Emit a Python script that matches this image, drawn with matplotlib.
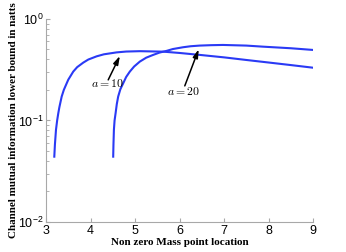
import matplotlib
matplotlib.use('Agg')
import matplotlib.pyplot as plt

# ---------------------- data ----------------------
x_a10 = [3.186, 3.2, 3.224, 3.25, 3.276, 3.3, 3.352, 3.4, 3.464, 3.5, 3.612,
         3.7, 3.836, 3.95, 4.137, 4.3, 4.585, 4.8, 5.108, 5.63, 6.0, 6.5,
         7.0, 7.5, 8.0, 8.5, 8.99]
y_a10 = [0.044, 0.058, 0.081, 0.100, 0.118, 0.135, 0.172, 0.200, 0.232, 0.252,
         0.303, 0.335, 0.371, 0.398, 0.428, 0.448, 0.468, 0.477, 0.481, 0.476,
         0.462, 0.440, 0.418, 0.394, 0.372, 0.351, 0.331]

x_a20 = [4.509, 4.515, 4.525, 4.54, 4.563, 4.59, 4.621, 4.67, 4.733, 4.8,
         4.883, 4.98, 5.108, 5.25, 5.406, 5.55, 5.706, 5.85, 6.08, 6.25,
         6.45, 6.7, 6.975, 7.5, 7.87, 8.5, 8.99]
y_a20 = [0.044, 0.058, 0.081, 0.100, 0.118, 0.145, 0.172, 0.203, 0.232, 0.268,
         0.303, 0.340, 0.380, 0.415, 0.442, 0.466, 0.484, 0.505, 0.526, 0.538,
         0.546, 0.551, 0.554, 0.546, 0.533, 0.514, 0.495]

x_ticks = [3, 4, 5, 6, 7, 8, 9]
y_ticks = [1e-2, 1e-1, 1e0]
y_ticklabels = [r'$\mathdefault{10^{-2}}$', r'$\mathdefault{10^{-1}}$',
                r'$\mathdefault{10^{0}}$']

# annotation positions (text centre, arrow tail, arrow head)
lbl_a10 = (r'$a=10$', (4.372, 0.227), (4.397, 0.251), (4.659, 0.432))
lbl_a20 = (r'$a=20$', (6.078, 0.192), (6.117, 0.219), (6.43, 0.503))

# ---------------------------- figure ------------------------------------
plt.rcParams['mathtext.fontset'] = 'cm'
plt.rcParams['font.family'] = ['Liberation Sans', 'DejaVu Sans']
line_col = '#2a3af5'
axis_col = '#a8a8a8'

fig = plt.figure(figsize=(3.46, 2.52), dpi=100)
ax = fig.add_axes([0.133, 0.119, 0.772, 0.806])

ax.plot(x_a10, y_a10, color=line_col, lw=1.5)
ax.plot(x_a20, y_a20, color=line_col, lw=1.5)

ax.set_yscale('log')
ax.set_xlim(3, 9)
ax.set_ylim(1e-2, 1e0)
ax.set_xticks(x_ticks)
ax.set_yticks(y_ticks)
ax.set_yticklabels(y_ticklabels)

for s in ['top', 'right']:
    ax.spines[s].set_visible(False)
for s in ['left', 'bottom']:
    ax.spines[s].set_color(axis_col)
    ax.spines[s].set_linewidth(0.8)
ax.tick_params(which='both', direction='in', color=axis_col, labelsize=9,
               labelcolor='black', pad=2)
ax.tick_params(which='major', length=3)
ax.tick_params(which='minor', length=2)

for txt, tpos, tail, head in [lbl_a10, lbl_a20]:
    ax.text(tpos[0], tpos[1], txt, ha='center', va='center', fontsize=8.5)
    ax.annotate('', xy=head, xytext=tail,
                arrowprops=dict(arrowstyle='-|>,head_length=0.5,head_width=0.15',
                                color='black', lw=1.1, shrinkA=0, shrinkB=0))

ax.set_xlabel('Non zero Mass point location', family='Liberation Serif',
              fontweight='bold', fontsize=8, labelpad=1)
ax.set_ylabel('Channel mutual information lower bound in natts',
              family='Liberation Serif', fontweight='bold', fontsize=8,
              labelpad=0)

fig.savefig('out.png', dpi=100)
